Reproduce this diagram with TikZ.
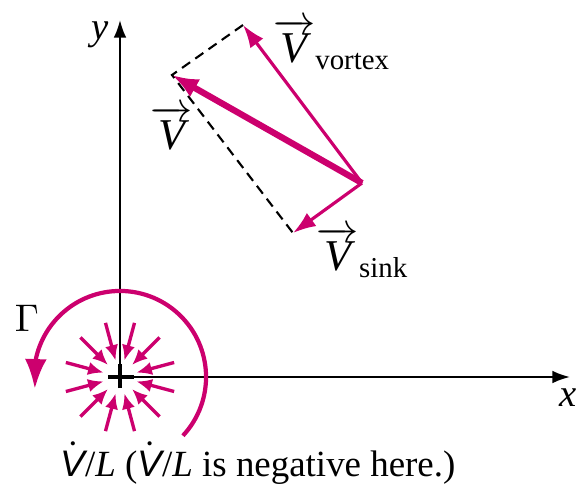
\documentclass[tikz,border=0pt]{standalone}
\usepackage{amsmath,fontspec}
\setmainfont{Liberation Serif}
\setsansfont{Liberation Sans}
\definecolor{flowmag}{RGB}{204,0,110}
\usetikzlibrary{arrows.meta,bending}
\tikzset{
  axis/.style={line width=0.6pt, -{Latex[length=5pt,width=3.6pt]}},
  vecarrow/.style={draw=flowmag, line width=0.9pt, -{Latex[length=6.5pt,width=4.6pt]}},
  bigvec/.style={draw=flowmag, line width=1.8pt, -{Latex[length=7.5pt,width=5.8pt]}},
  sinkarrow/.style={draw=flowmag, line width=0.95pt, -{Latex[length=4.4pt,width=3.8pt]}},
  circarrow/.style={draw=flowmag, line width=1.2pt, -{Latex[length=8.5pt,width=6.2pt,flex]}},
  guide/.style={draw=black, line width=0.6pt, dash pattern=on 2.8pt off 1.8pt},
  lbl/.style={font=\rmfamily\fontsize{10.5}{12}\selectfont, inner sep=0pt},
  veclbl/.style={font=\rmfamily\fontsize{12.5}{14}\selectfont, inner sep=0pt},
}
\newcommand{\Vdotvol}{\dot{\text{\sffamily\itshape V}}}
\newcommand{\vecsub}[1]{\text{\fontsize{8.2}{9}\selectfont #1}}

\begin{document}
\begin{tikzpicture}[x=0.01cm, y=0.01cm]
\useasboundingbox (-120,-110) rectangle (458,377);

% Axes
\coordinate (O) at (0,0);
\coordinate (ytop) at (0,357);
\coordinate (xend) at (450,0);
\draw[axis] (O) -- (ytop);
\draw[axis] (O) -- (xend);
\draw[line width=1.4pt] (-12,0) -- (14,0) (0,-11) -- (0,13);
\node[lbl, font=\rmfamily\fontsize{11}{12}\selectfont\itshape] (ylab) at (-20,342) {y};
\node[lbl, font=\rmfamily\fontsize{11}{12}\selectfont\itshape] (xlab) at (448,-21) {x};

% Line sink at the origin
\foreach \a in {15,45,...,345}
  \draw[sinkarrow] (\a:0.56cm) -- (\a:0.17cm);

% Circulation
\draw[circarrow] (-43:0.86cm) arc[start angle=-43, end angle=188, radius=0.86cm];
\node[lbl, font=\rmfamily\fontsize{11}{12}\selectfont] (gam) at (-93,59) {$\Gamma$};

% Vector sum
\coordinate (P) at (242,194);
\coordinate (vort) at (123,352);
\coordinate (vtot) at (52,302);
\coordinate (snk) at (173,144);
\draw[guide] (vort) -- (vtot) -- (snk);
\draw[vecarrow] (P) -- (vort);
\draw[vecarrow] (P) -- (snk);
\draw[bigvec] (P) -- (vtot);

\node[veclbl] (vortlab) at (212,333) {$\overrightarrow{\textit{V}}_{\vecsub{vortex}}$};
\node[veclbl] (vtotlab) at (52,249) {$\overrightarrow{\textit{V}}$};
\node[veclbl] (snklab) at (243,125) {$\overrightarrow{\textit{V}}_{\vecsub{sink}}$};

% Caption
\node[lbl] (cap) at (138,-86) {$\Vdotvol$/\textit{L} ($\Vdotvol$/\textit{L} is negative here.)};
\end{tikzpicture}
\end{document}
